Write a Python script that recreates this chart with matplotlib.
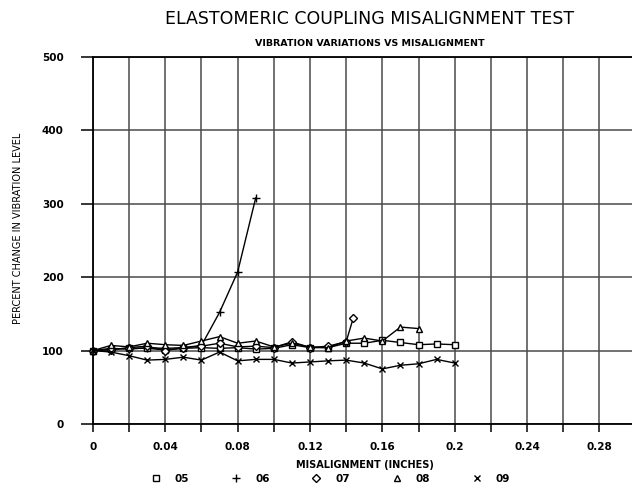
import matplotlib
matplotlib.use("Agg")
import matplotlib.pyplot as plt
from matplotlib.ticker import MultipleLocator, FixedLocator

x_all = [0.00, 0.01, 0.02, 0.03, 0.04, 0.05, 0.06, 0.07, 0.08, 0.09, 0.10,
         0.11, 0.12, 0.13, 0.14, 0.15, 0.16, 0.17, 0.18, 0.19, 0.20]

s05 = [100, 102, 103, 103, 101, 103, 104, 103, 104, 102, 103,
       108, 104, 104, 110, 110, 114, 111, 108, 109, 108]
x06 = x_all[:10]
s06 = [100, 103, 102, 104, 103, 104, 107, 152, 207, 308]
x07 = x_all[:15] + [0.144]
s07 = [100, 101, 104, 106, 100, 104, 106, 110, 105, 106, 104,
       112, 104, 106, 112, 145]
x08 = x_all[:19]
s08 = [100, 107, 105, 110, 108, 107, 113, 119, 110, 113, 105,
       110, 105, 104, 113, 117, 113, 132, 130]
s09 = [100, 98, 93, 87, 88, 91, 87, 98, 86, 88, 88,
       83, 84.5, 86, 87, 83, 75, 80, 82, 88, 83]

labels = ["05", "06", "07", "08", "09"]

fig = plt.figure(figsize=(6.32, 4.91), dpi=100)
ax = fig.add_axes([0.147, 0.1365, 0.853, 0.7475])

gc = "#4a4a4a"
ax.set_xlim(0, 0.298)
ax.set_ylim(0, 500)
ax.xaxis.set_major_locator(FixedLocator([0, 0.04, 0.08, 0.12, 0.16, 0.20, 0.24, 0.28]))
ax.xaxis.set_minor_locator(MultipleLocator(0.02))
ax.yaxis.set_major_locator(MultipleLocator(100))
ax.set_xticklabels(["0", "0.04", "0.08", "0.12", "0.16", "0.2", "0.24", "0.28"])
ax.grid(True, which="both", axis="x", color=gc, lw=1.1)
ax.grid(True, which="major", axis="y", color=gc, lw=1.1)
ax.set_axisbelow(True)
ax.tick_params(axis="x", which="both", direction="out", length=6, width=1.1,
               color="black", pad=7, labelsize=7.5)
ax.tick_params(axis="y", which="major", direction="out", length=9, width=1.1,
               color="black", pad=12, labelsize=7.5)
for lab in ax.get_xticklabels() + ax.get_yticklabels():
    lab.set_fontweight("bold")
ax.spines["right"].set_visible(False)
for s in ["left", "top", "bottom"]:
    ax.spines[s].set_linewidth(1.3)
    ax.spines[s].set_color("black")

kw = dict(color="black", lw=1.0, markersize=5, markeredgewidth=1.0,
          markerfacecolor="white", clip_on=False)
h1, = ax.plot(x_all, s05, marker="s", **kw)
h2, = ax.plot(x06, s06, marker="+", markersize=6, color="black", lw=1.0,
              markeredgewidth=1.0)
h3, = ax.plot(x07, s07, marker="D", **{**kw, "markersize": 4})
h4, = ax.plot(x08, s08, marker="^", **kw)
h5, = ax.plot(x_all, s09, marker="x", color="black", lw=1.0, markersize=5,
              markeredgewidth=1.0)

fig.text(0.585, 0.962, "ELASTOMERIC COUPLING MISALIGNMENT TEST",
         ha="center", va="center", fontsize=12.5, family="DejaVu Sans")
fig.text(0.585, 0.912, "VIBRATION VARIATIONS VS MISALIGNMENT",
         ha="center", va="center", fontsize=6.8, fontweight="bold")
fig.text(0.028, 0.535, "PERCENT CHANGE IN VIBRATION LEVEL", rotation=90,
         ha="center", va="center", fontsize=7)
fig.text(0.578, 0.052, "MISALIGNMENT (INCHES)", ha="center", va="center",
         fontsize=7, fontweight="bold")

leg = fig.legend([h1, h2, h3, h4, h5], labels, loc="center",
                 bbox_to_anchor=(0.527, 0.025), ncol=5, frameon=False,
                 handlelength=0, handletextpad=1.8, columnspacing=4.5,
                 prop={"size": 7.5, "weight": "bold"})
for line in leg.get_lines():
    line.set_linestyle("none")

fig.savefig("out.png", dpi=100)
